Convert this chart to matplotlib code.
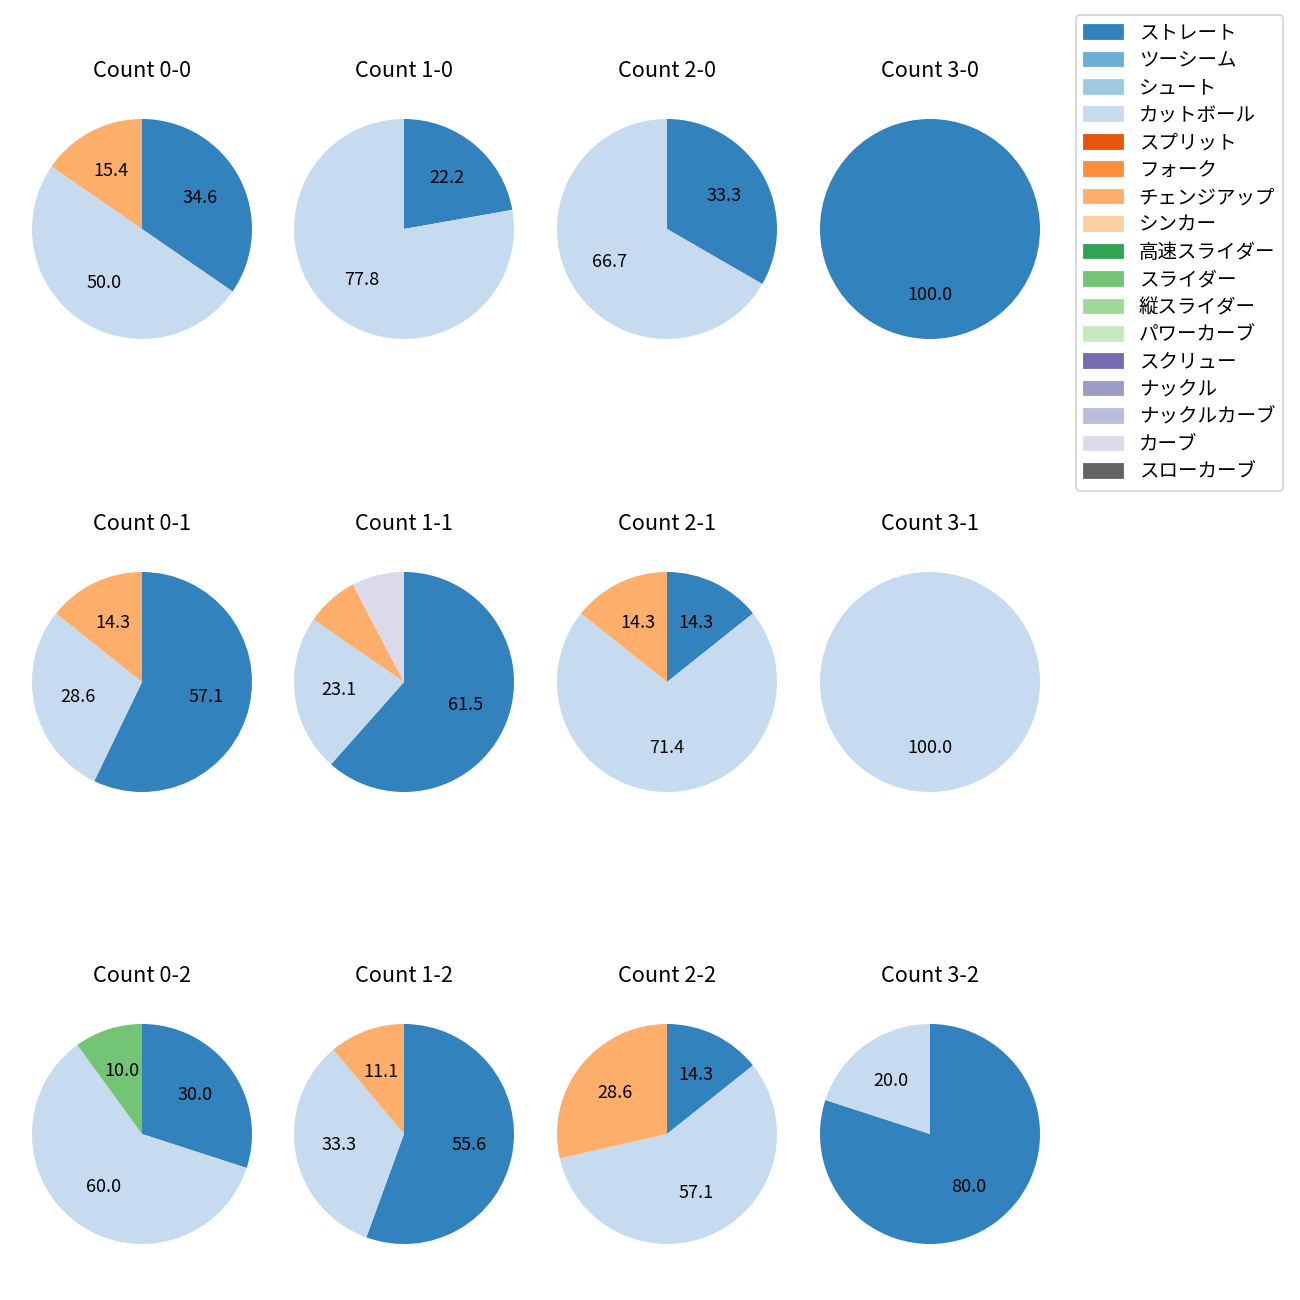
import matplotlib.pyplot as plt
from matplotlib.patches import Patch

plt.rcParams['font.family'] = ['Noto Sans CJK JP', 'DejaVu Sans']

# 球種（凡例順）と色
pitch_types = ['ストレート', 'ツーシーム', 'シュート', 'カットボール', 'スプリット', 'フォーク',
               'チェンジアップ', 'シンカー', '高速スライダー', 'スライダー', '縦スライダー',
               'パワーカーブ', 'スクリュー', 'ナックル', 'ナックルカーブ', 'カーブ', 'スローカーブ']
pitch_colors = ['#3182bd', '#6baed6', '#9ecae1', '#c6dbef', '#e6550d', '#fd8d3c',
                '#fdae6b', '#fdd0a2', '#31a354', '#74c476', '#a1d99b', '#c7e9c0',
                '#756bb1', '#9e9ac8', '#bcbddc', '#dadaeb', '#636363']

# カウント別の投球数 {球種: 数}
counts = {
    '0-0': {'ストレート': 9, 'カットボール': 13, 'チェンジアップ': 4},
    '1-0': {'ストレート': 2, 'カットボール': 7},
    '2-0': {'ストレート': 1, 'カットボール': 2},
    '3-0': {'ストレート': 1},
    '0-1': {'ストレート': 4, 'カットボール': 2, 'チェンジアップ': 1},
    '1-1': {'ストレート': 8, 'カットボール': 3, 'チェンジアップ': 1, 'カーブ': 1},
    '2-1': {'ストレート': 1, 'カットボール': 5, 'チェンジアップ': 1},
    '3-1': {'カットボール': 1},
    '0-2': {'ストレート': 3, 'カットボール': 6, 'スライダー': 1},
    '1-2': {'ストレート': 5, 'カットボール': 3, 'チェンジアップ': 1},
    '2-2': {'ストレート': 1, 'カットボール': 4, 'チェンジアップ': 2},
    '3-2': {'ストレート': 4, 'カットボール': 1},
}

W, H = 1300, 1300
col_cx = [142, 404, 667, 930]
row_cy = [229, 682, 1134]
r = 110

fig = plt.figure(figsize=(10, 10), dpi=130)

for i, strikes in enumerate(range(3)):
    for j, balls in enumerate(range(4)):
        key = f'{balls}-{strikes}'
        data = counts[key]
        cx, cy = col_cx[j], row_cy[i]
        ax = fig.add_axes([(cx - r) / W, 1 - (cy + r) / H, 2 * r / W, 2 * r / H])
        vals = [data[p] for p in pitch_types if p in data]
        cols = [pitch_colors[k] for k, p in enumerate(pitch_types) if p in data]
        ax.pie(vals, colors=cols, startangle=90, counterclock=False,
               autopct=lambda pct: f'{pct:.1f}' if pct >= 10 else '',
               textprops={'fontsize': 10})
        ax.set_xlim(-1, 1)
        ax.set_ylim(-1, 1)
        ax.set_title(f'Count {key}', fontsize=12, pad=23)

handles = [Patch(color=c, label=p) for p, c in zip(pitch_types, pitch_colors)]
fig.legend(handles=handles, loc='upper right', bbox_to_anchor=(1283 / W, 1 - 15 / H),
           borderaxespad=0, fontsize=10.8, labelspacing=0.33)

fig.savefig('out.png', dpi=130)
